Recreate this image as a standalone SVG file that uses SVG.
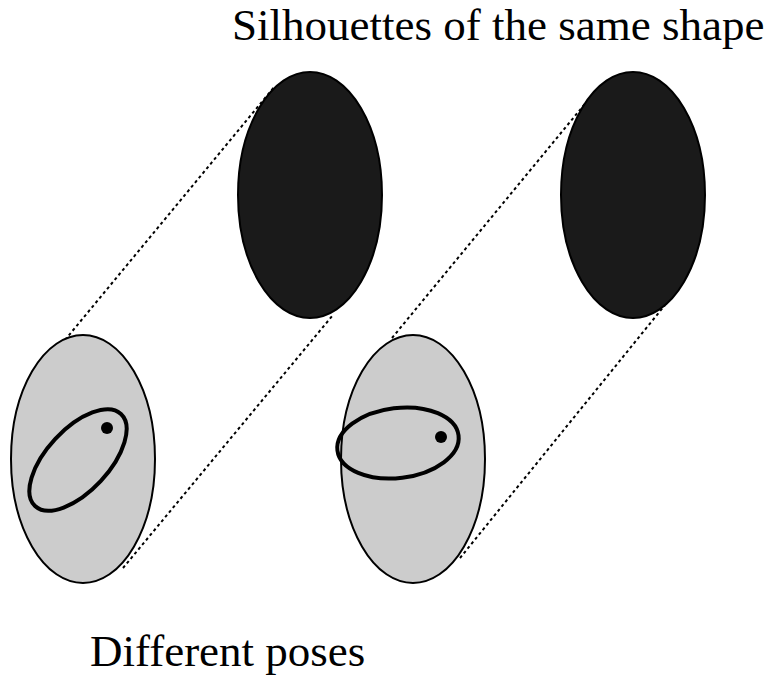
<svg xmlns="http://www.w3.org/2000/svg" width="773" height="678" viewBox="0 0 773 678">
<style>
.lbl{font-family:"Liberation Serif","Times New Roman",serif;font-size:45px;fill:#000}
.pose{fill:#cccccc;stroke:#000;stroke-width:2}
.sil{fill:#1a1a1a;stroke:#000;stroke-width:2}
.inner{fill:none;stroke:#000;stroke-width:4}
.proj{stroke:#000;stroke-width:2;stroke-dasharray:3 3;fill:none}
</style>
<rect width="773" height="678" fill="#fff"/>
<g id="connectors">
<line class="proj" x1="65" y1="340" x2="275" y2="86"/>
<line class="proj" x1="123" y1="568" x2="333" y2="315"/>
<line class="proj" x1="392" y1="338" x2="598" y2="88"/>
<line class="proj" x1="460" y1="558" x2="665" y2="305"/>
</g>
<g id="pose1">
<ellipse class="pose" cx="83" cy="459" rx="72" ry="124"/>
<ellipse class="inner" cx="0" cy="0" rx="63" ry="31" transform="translate(78,460) rotate(-47)"/>
<circle cx="107" cy="428" r="6" fill="#000"/>
</g>
<g id="pose2">
<ellipse class="pose" cx="413" cy="459" rx="72" ry="124"/>
<ellipse class="inner" cx="0" cy="0" rx="61" ry="35" transform="translate(398,443) rotate(-7)"/>
<circle cx="441" cy="437" r="6" fill="#000"/>
</g>
<g id="silhouette1">
<ellipse class="sil" cx="310" cy="195" rx="72" ry="123"/>
</g>
<g id="silhouette2">
<ellipse class="sil" cx="633" cy="195" rx="72" ry="123"/>
</g>
<g id="labels">
<text class="lbl" x="232" y="40">Silhouettes of the same shape</text>
<text class="lbl" x="90" y="666">Different poses</text>
</g>
</svg>
